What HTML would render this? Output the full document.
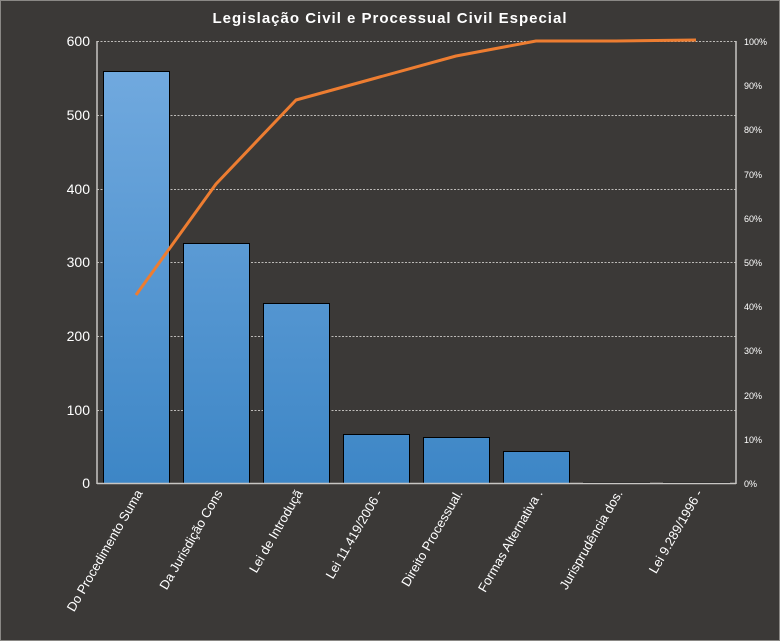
<!DOCTYPE html>
<html><head><meta charset="utf-8"><style>
html,body{margin:0;padding:0;background:#3b3937}
svg{display:block}
</style></head><body>
<svg width="780" height="641" viewBox="0 0 780 641" xmlns="http://www.w3.org/2000/svg" font-family="Liberation Sans, sans-serif">
<defs>
<linearGradient id="g" gradientUnits="userSpaceOnUse" x1="0" y1="60" x2="0" y2="483">
<stop offset="0" stop-color="#72aadf"/><stop offset="1" stop-color="#3d86c6"/>
</linearGradient>
</defs>
<rect x="0.5" y="0.5" width="779" height="640" fill="#3b3937" stroke="#8a8885"/>
<text x="390" y="23" text-anchor="middle" fill="#fff" font-size="15" font-weight="bold" letter-spacing="1">Legislação Civil e Processual Civil Especial</text>
<g stroke="#bdbbb8" stroke-dasharray="2,1.5" stroke-width="1">
<line x1="97" y1="41.5" x2="736" y2="41.5"/><line x1="97" y1="115.5" x2="736" y2="115.5"/>
<line x1="97" y1="189.5" x2="736" y2="189.5"/><line x1="97" y1="262.5" x2="736" y2="262.5"/>
<line x1="97" y1="336.5" x2="736" y2="336.5"/><line x1="97" y1="410.5" x2="736" y2="410.5"/>
</g>
<g fill="url(#g)" stroke="#000" stroke-width="1">
<rect x="103.5" y="71.5" width="66" height="412"/>
<rect x="183.5" y="243.5" width="66" height="240"/>
<rect x="263.5" y="303.5" width="66" height="180"/>
<rect x="343.5" y="434.5" width="66" height="49"/>
<rect x="423.5" y="437.5" width="66" height="46"/>
<rect x="503.5" y="451.5" width="66" height="32"/>
<rect x="583.5" y="482.5" width="66" height="1"/>
<rect x="663.5" y="482.5" width="66" height="1"/>
</g>
<g stroke="#c8c6c3" stroke-width="1.5">
<line x1="97" y1="41" x2="97" y2="484"/><line x1="736" y1="41" x2="736" y2="484"/>
<line x1="97" y1="483.5" x2="736" y2="483.5"/>
</g>
<polyline points="136,295 216,184 296,100 376,78 456,56 536,41 616,41 696,40" fill="none" stroke="#ed7d31" stroke-width="3" stroke-linejoin="round"/>
<g fill="#fff" font-size="14" text-anchor="end">
<text x="90" y="46">600</text><text x="90" y="120">500</text><text x="90" y="194">400</text>
<text x="90" y="267">300</text><text x="90" y="341">200</text><text x="90" y="415">100</text><text x="90" y="488">0</text>
</g>
<g fill="#fff" font-size="9">
<text x="744" y="45">100%</text><text x="744" y="89">90%</text><text x="744" y="133">80%</text>
<text x="744" y="178">70%</text><text x="744" y="222">60%</text><text x="744" y="266">50%</text>
<text x="744" y="310">40%</text><text x="744" y="354">30%</text><text x="744" y="399">20%</text>
<text x="744" y="443">10%</text><text x="744" y="487">0%</text>
</g>
<g fill="#fff" font-size="13" text-anchor="end">
<text transform="translate(143,493) rotate(-60)">Do Procedimento Suma</text>
<text transform="translate(223,493) rotate(-60)">Da Jurisdição Cons</text>
<text transform="translate(303,493) rotate(-60)">Lei de Introduçã</text>
<text transform="translate(383,493) rotate(-60)">Lei 11.419/2006 -</text>
<text transform="translate(463,493) rotate(-60)">Direito Processual.</text>
<text transform="translate(543,493) rotate(-60)">Formas  Alternativa .</text>
<text transform="translate(623,493) rotate(-60)">Jurisprudência dos.</text>
<text transform="translate(703,493) rotate(-60)">Lei 9.289/1996 -</text>
</g>
</svg>
</body></html>
